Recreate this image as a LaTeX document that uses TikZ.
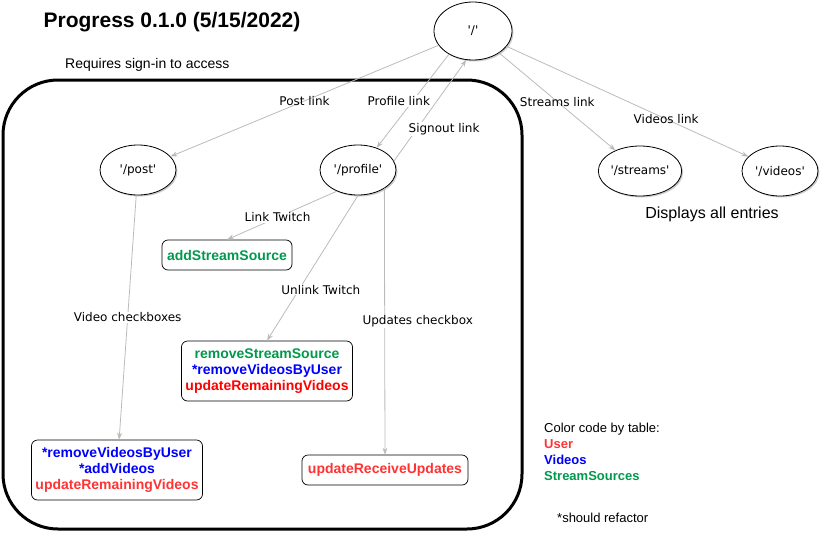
\documentclass[tikz,border=0pt]{standalone}
\usepackage{fontspec}
\setmainfont{Liberation Sans}
\newfontfamily\vera{DejaVu Sans}
\usetikzlibrary{shapes.geometric,shadows,arrows.meta,positioning}
\definecolor{tblgreen}{HTML}{00994D}
\definecolor{tblblue}{HTML}{0000FF}
\definecolor{tblred}{HTML}{FF3333}
\definecolor{tblredd}{HTML}{FF0000}
\definecolor{linkgray}{HTML}{BBBBBB}

\tikzset{
  route/.style={ellipse, draw, line width=0.8pt, fill=white, minimum width=76pt, minimum height=50pt, inner sep=0pt,
    font=\vera\fontsize{12}{14}\selectfont,
    drop shadow={shadow xshift=1.5pt, shadow yshift=-1.5pt, fill=black!40, opacity=0.5}},
  action/.style={draw, rounded corners=6pt, line width=0.7pt, fill=white, align=center, inner sep=0pt,
    font=\bfseries\fontsize{14}{16}\selectfont},
  link/.style={draw=linkgray, line width=0.8pt, -{Stealth[length=7pt,width=5pt]}},
  lbl/.style={fill=white, inner sep=1pt, text=black, font=\vera\fontsize{12}{14}\selectfont},
  lblclear/.style={lbl, fill=none},
}

\begin{document}
\begin{tikzpicture}[x=1pt,y=-1pt]
            \useasboundingbox (0,0) rectangle (822,533);

            % titles
            \node[font=\bfseries\fontsize{21}{24}\selectfont] (title) at (172,22) {Progress 0.1.0 (5/15/2022)};
            \node[anchor=west, inner sep=0pt, font=\fontsize{14}{16}\selectfont] (signin) at (65,65) {Requires sign-in to access};
            \draw[line width=3pt, rounded corners=55pt] (3,80) rectangle (522,529);

            % routes
            \node[route, minimum width=78pt, minimum height=58pt] (root) at (473,31) {'/'};
            \node[route] (post) at (138,170) {'/post'};
            \node[route] (profile) at (358,170) {'/profile'};
            \node[route] (streams) at (640,171) {'/streams'};
            \node[route] (videos) at (780,171) {'/videos'};
            \node[font=\fontsize{16}{18}\selectfont] (entries) at (712,214) {Displays all entries};

            % actions
            \node[action, minimum width=130pt, minimum height=30pt] (addsrc) at (227,255)
                {\textcolor{tblgreen}{addStreamSource}};
            \node[action, minimum width=171pt, minimum height=60pt] (rmsrc) at (267,371)
                {\textcolor{tblgreen}{removeStreamSource}\\\textcolor{tblblue}{*removeVideosByUser}\\\textcolor{tblredd}{updateRemainingVideos}};
            \node[action, minimum width=171pt, minimum height=60pt] (calls) at (117,470)
                {\textcolor{tblblue}{*removeVideosByUser}\\\textcolor{tblblue}{*addVideos}\\\textcolor{tblred}{updateRemainingVideos}};
            \node[action, minimum width=166pt, minimum height=30pt] (upd) at (385,470)
                {\textcolor{tblred}{updateReceiveUpdates}};

            % links
            \draw[link] (root) -- node[lblclear]{Post link} (post);
            \draw[link] (root.224) -- node[lbl, xshift=-14pt]{Profile link} (profile.50);
            \draw[link] (profile.14) -- node[lbl, pos=0.32, xshift=27pt]{Signout link} (root.257);
            \draw[link] (root) -- node[lblclear]{Streams link} (streams);
            \draw[link] (root) -- node[lblclear, pos=0.66]{Videos link} (videos);
            \draw[link] (post) -- node[lbl]{Video checkboxes} (calls);
            \draw[link] (profile.225) -- node[lbl, pos=0.54]{Link Twitch} (addsrc.north);
            \draw[link] (profile.south) -- node[lbl, pos=0.65, xshift=22pt]{Unlink Twitch} (rmsrc.north);
            \draw[link] (profile.325) -- node[lbl, xshift=33pt]{Updates checkbox} (upd.north);

            % legend
            \node[anchor=north west, align=left, inner sep=0pt, font=\fontsize{13}{16}\selectfont] (legend) at (544,423)
                {Color code by table:\\
                 \textcolor{tblred}{\bfseries User}\\
                 \textcolor{tblblue}{\bfseries Videos}\\
                 \textcolor{tblgreen}{\bfseries StreamSources}};
            \node[anchor=west, inner sep=0pt, font=\fontsize{13}{15}\selectfont] (refactor) at (557,518) {*should refactor};
        \end{tikzpicture}
\end{document}
